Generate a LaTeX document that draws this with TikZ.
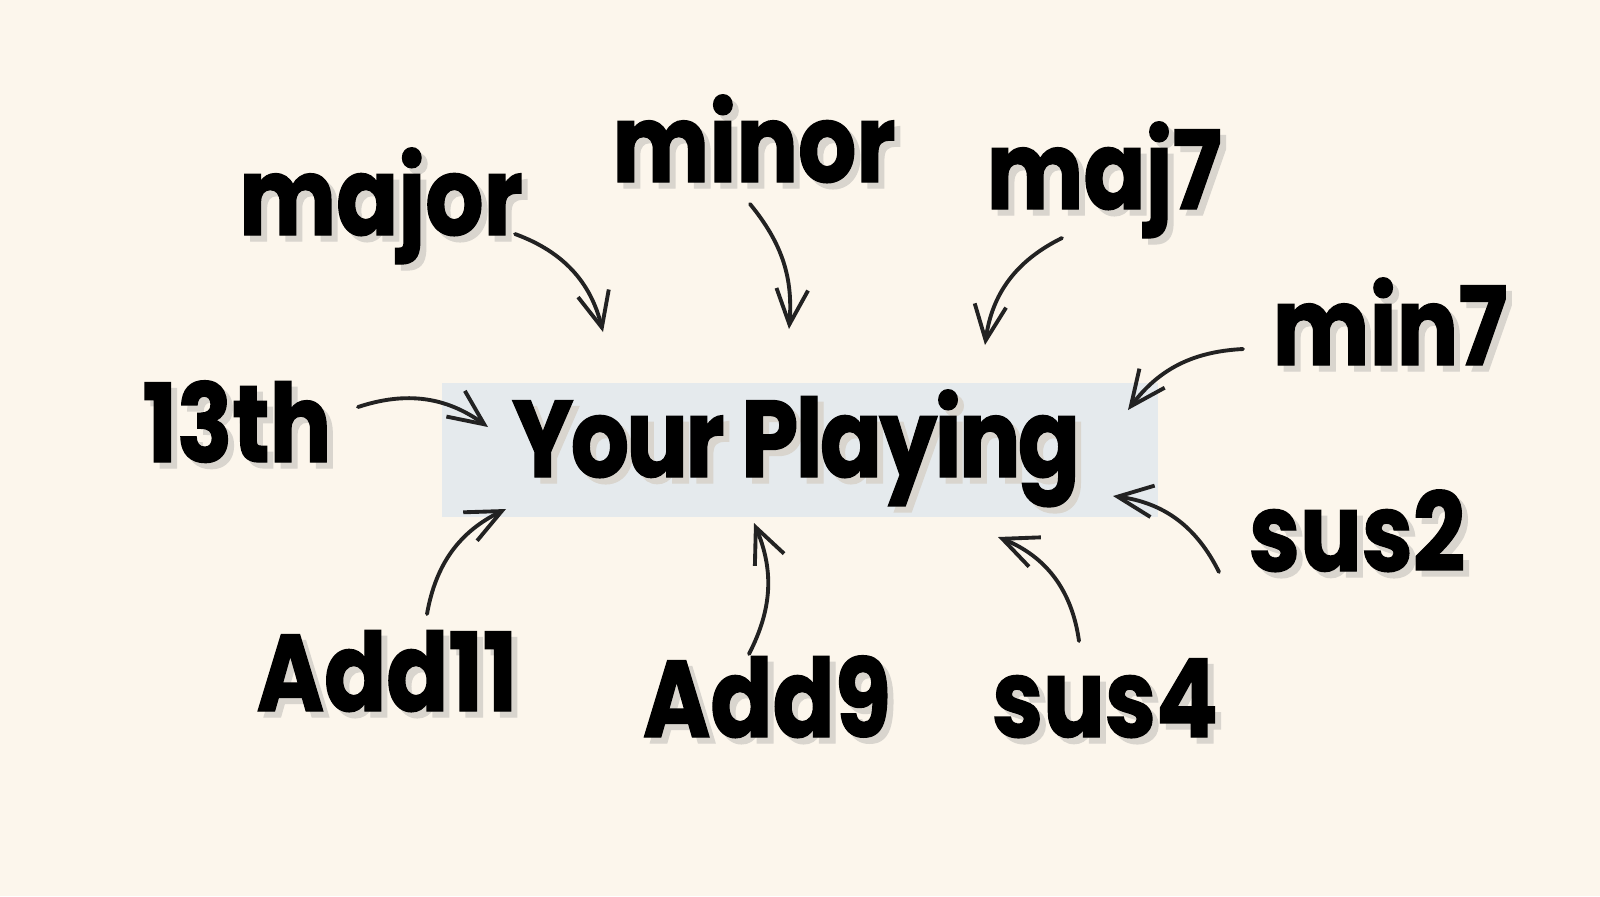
\documentclass[tikz,border=0pt]{standalone}
\usepackage{fontspec}
\setmainfont{Poppins}[BoldFeatures={FakeStretch=0.84, FakeBold=1.2}]
\usetikzlibrary{arrows.meta}
\usetikzlibrary{positioning}

\definecolor{paper}{RGB}{252,246,236}
\definecolor{boxblue}{RGB}{229,234,237}
\definecolor{shade}{RGB}{217,213,206}
\definecolor{ink}{RGB}{34,34,34}

\tikzset{
  chord/.style={anchor=base, inner sep=0pt, font=\fontsize{31}{31}\selectfont\bfseries},
  chordshade/.style={chord, text=shade},
  chordarrow/.style={draw=ink, line width=1.1pt, line cap=round,
    -{Straight Barb[length=10pt, width=9pt]}},
}

% shadow first, then the black word on top
\newcommand{\chordword}[3]{%
  \node[chordshade] at ([shift={(6,-6)}]#2) {#3};
  \node[chord] (#1) at (#2) {#3};}

\begin{document}
\begin{tikzpicture}[x=0.01cm, y=0.01cm]
  % paper
  \fill[paper] (0,0) rectangle (1600,-896);
  % centre box
  \node[fill=boxblue, minimum width=7.16cm, minimum height=1.34cm, inner sep=0pt]
    (box) at (800,-450) {};
  \chordword{playing}{796,-477}{\addfontfeatures{LetterSpace=-2.5}Your Playing}
  % chord names round the box
  \chordword{major}{381,-235}{major}
  \chordword{minor}{754,-182}{minor}
  \chordword{majseven}{1104,-209}{maj7}
  \chordword{minseven}{1390,-365}{min7}
  \chordword{thirteen}{237,-462}{13th}
  \chordword{sustwo}{1357,-571}{sus2}
  \chordword{addeleven}{387,-711}{Add11}
  \chordword{addnine}{767,-737}{Add9}
  \chordword{susfour}{1105,-737}{sus4}
  % arrow ends
  \coordinate (majorT) at (515,-234);    \coordinate (majorH) at (603,-332);
  \coordinate (minorT) at (750,-204);    \coordinate (minorH) at (789,-329);
  \coordinate (majsevenT) at (1062,-238); \coordinate (majsevenH) at (985,-345);
  \coordinate (minsevenT) at (1243,-349); \coordinate (minsevenH) at (1128,-410);
  \coordinate (thirteenT) at (358,-407);  \coordinate (thirteenH) at (488,-427);
  \coordinate (sustwoT) at (1219,-572);   \coordinate (sustwoH) at (1113,-496);
  \coordinate (susfourT) at (1079,-641);  \coordinate (susfourH) at (998,-537);
  \coordinate (addnineT) at (749,-654);   \coordinate (addnineH) at (754,-523);
  \coordinate (addelevenT) at (427,-614); \coordinate (addelevenH) at (506,-509);
  % arrows into the box
  \draw[chordarrow] (majorT) to[bend left=28] (majorH);
  \draw[chordarrow] (minorT) to[bend left=22] (minorH);
  \draw[chordarrow] (majsevenT) to[bend right=28] (majsevenH);
  \draw[chordarrow] (minsevenT) to[bend right=25] (minsevenH);
  \draw[chordarrow] (thirteenT) to[bend left=27] (thirteenH);
  \draw[chordarrow] (sustwoT) to[bend right=28] (sustwoH);
  \draw[chordarrow] (susfourT) to[bend right=30] (susfourH);
  \draw[chordarrow] (addnineT) to[bend right=25] (addnineH);
  \draw[chordarrow] (addelevenT) to[bend left=27] (addelevenH);
\end{tikzpicture}
\end{document}
